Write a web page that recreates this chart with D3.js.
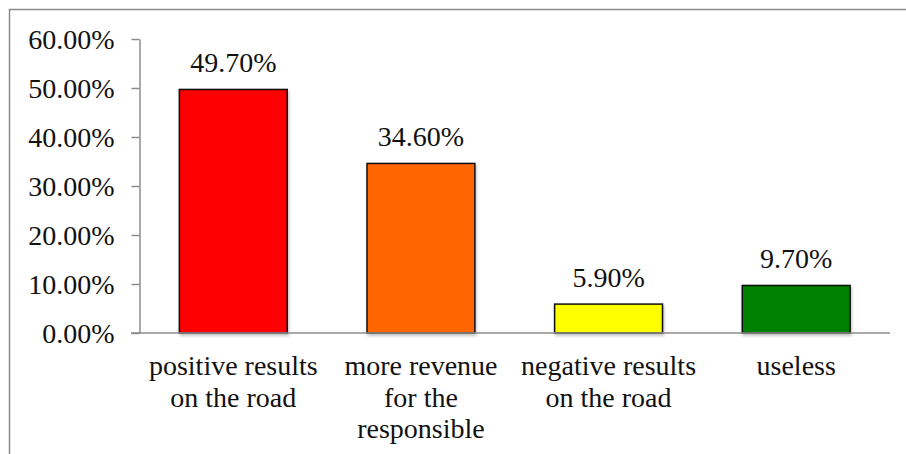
<html>
<head>
<meta charset="utf-8">
<script src="https://d3js.org/d3.v7.min.js"></script>
<style>
  body { margin: 0; background: #fff; }
  text { font-family: "Liberation Serif", serif; fill: #111; }
</style>
</head>
<body>
<div id="my_dataviz"></div>
<script>
// data
const categories = ["positive results on the road", "more revenue for the responsible", "negative results on the road", "useless"];
const labelLines = [["positive results", "on the road"], ["more revenue", "for the", "responsible"], ["negative results", "on the road"], ["useless"]];
const values = [0.497, 0.346, 0.059, 0.097];
const barColors = ["#ff0000", "#ff6600", "#ffff00", "#008000"];
const yTicks = [0, 0.1, 0.2, 0.3, 0.4, 0.5, 0.6];

const W = 906, H = 454;
const fs = "28px";
const svg = d3.select("#my_dataviz").append("svg")
  .attr("width", W).attr("height", H);

// soft shadow under the bars
const defs = svg.append("defs");
const f = defs.append("filter").attr("id", "shadow").attr("x", "-10%").attr("y", "-10%").attr("width", "130%").attr("height", "130%");
f.append("feDropShadow").attr("dx", 1).attr("dy", 2).attr("stdDeviation", 1.5).attr("flood-color", "#000").attr("flood-opacity", 0.25);

// outer frame (runs off the right and bottom edge)
svg.append("rect")
  .attr("x", 9.5).attr("y", 9.5)
  .attr("width", W + 10).attr("height", H + 10)
  .attr("fill", "none").attr("stroke", "#8a8a8a").attr("stroke-width", 1.5);

const x0 = 139.5, x1 = 890;
const x = d3.scaleBand()
  .domain(categories)
  .range([x0, x1])
  .paddingInner(0.425)
  .paddingOuter(0.2125);

const y = d3.scaleLinear()
  .domain([0, 0.6])
  .range([333, 39]);

// y axis
const yAxis = svg.append("g")
  .attr("transform", `translate(${x0},0)`)
  .call(d3.axisLeft(y).tickValues(yTicks).tickFormat(d3.format(".2%")).tickSizeInner(8).tickSizeOuter(0).tickPadding(17));
yAxis.select(".domain").attr("stroke", "#8c8c8c").attr("stroke-width", 1.5);
yAxis.selectAll(".tick line").attr("stroke", "#8c8c8c").attr("stroke-width", 1.5);
yAxis.selectAll(".tick text")
  .style("font-family", "'Liberation Serif', serif")
  .style("font-size", fs).attr("fill", "#111").attr("dy", "0.35em");

// bars
svg.selectAll(".bar")
  .data(values)
  .join("rect")
  .attr("class", "bar")
  .attr("x", (d, i) => x(categories[i]))
  .attr("y", d => y(d))
  .attr("width", x.bandwidth())
  .attr("height", d => y(0) - y(d))
  .attr("fill", (d, i) => barColors[i])
  .attr("stroke", "#111")
  .attr("stroke-width", 1.5)
  .attr("filter", "url(#shadow)");

// x axis line
svg.append("line")
  .attr("x1", 131).attr("x2", x1)
  .attr("y1", y(0)).attr("y2", y(0))
  .attr("stroke", "#8c8c8c").attr("stroke-width", 1.5);

// value labels
svg.selectAll(".val")
  .data(values)
  .join("text")
  .attr("class", "val")
  .attr("x", (d, i) => x(categories[i]) + x.bandwidth() / 2)
  .attr("y", d => y(d) - 17)
  .attr("text-anchor", "middle")
  .style("font-size", fs)
  .text(d => d3.format(".2%")(d));

// category labels
const cat = svg.selectAll(".cat")
  .data(labelLines)
  .join("text")
  .attr("class", "cat")
  .attr("text-anchor", "middle")
  .style("font-size", fs)
  .attr("transform", (d, i) => `translate(${x(categories[i]) + x.bandwidth() / 2},375)`);
cat.selectAll("tspan")
  .data(d => d)
  .join("tspan")
  .attr("x", 0)
  .attr("y", (d, j) => j * 31.5)
  .text(d => d);
</script>
</body>
</html>
